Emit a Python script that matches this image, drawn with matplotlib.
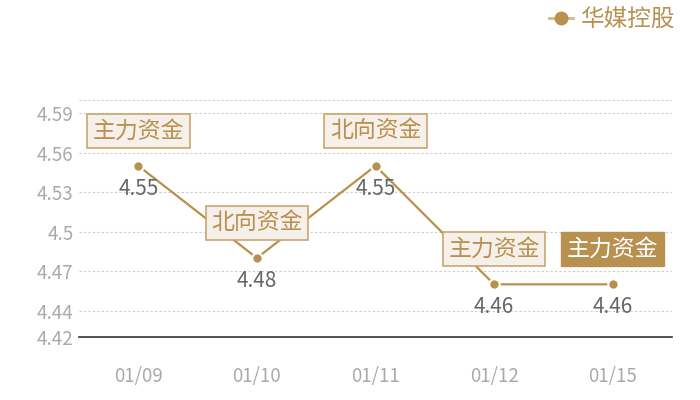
import matplotlib
matplotlib.use("Agg")
import matplotlib.pyplot as plt
from matplotlib.lines import Line2D

plt.rcParams['font.family'] = ['Noto Sans CJK SC', 'DejaVu Sans']

dates = ["01/09", "01/10", "01/11", "01/12", "01/15"]
values = [4.55, 4.48, 4.55, 4.46, 4.46]
tags = ["主力资金", "北向资金", "北向资金", "主力资金", "主力资金"]
series_name = "华媒控股"
yticks = [4.42, 4.44, 4.47, 4.5, 4.53, 4.56, 4.59]
ytick_labels = ["4.42", "4.44", "4.47", "4.5", "4.53", "4.56", "4.59"]
ymin, ymax = 4.42, 4.60

TAN = "#b8904f"
fig = plt.figure(figsize=(7, 4), dpi=100)
ax = fig.add_axes([79/700, 1-337/400, (672-79)/700, (337-100)/400])

x = list(range(len(dates)))
line, = ax.plot(x, values, color=TAN, lw=1.6, marker='o', ms=7.5,
                mfc=TAN, mec='white', mew=1.5, zorder=3, label=series_name)

ax.set_xlim(-0.5, len(dates) - 0.5)
ax.set_ylim(ymin, ymax)
ax.set_yticks(yticks)
ax.set_yticklabels(ytick_labels)
ax.set_xticks(x)
ax.set_xticklabels(dates)
for gy in yticks[1:] + [ymax]:
    ax.axhline(gy, color='#cccccc', lw=0.8, ls=(0, (2, 2)), zorder=1)

for s in ['top', 'right', 'left']:
    ax.spines[s].set_visible(False)
ax.spines['bottom'].set_color('#333333')
ax.spines['bottom'].set_linewidth(1.2)
ax.tick_params(axis='both', length=0, colors='#aaaaaa', labelsize=13.5)
ax.tick_params(axis='x', pad=21)
ax.tick_params(axis='y', pad=4)

last = len(dates) - 1
for i, (v, t) in enumerate(zip(values, tags)):
    if i == last:
        bbox = dict(boxstyle='square,pad=0.24', fc=TAN, ec=TAN, lw=1)
        tc = 'white'
    else:
        bbox = dict(boxstyle='square,pad=0.24', fc='#f5f0ea', ec='#c9a66e', lw=1.2)
        tc = TAN
    ax.annotate(t, (i, v), xytext=(0, 35), textcoords='offset pixels',
                ha='center', va='center', fontsize=16.5, color=tc,
                bbox=bbox, zorder=5)
    ax.annotate(f"{v:.2f}", (i, v), xytext=(0, -23), textcoords='offset pixels',
                ha='center', va='center', fontsize=15, color='#666666', zorder=5)

handle = Line2D([], [], color='#d2b78a', lw=2, marker='o', ms=9,
                mfc=TAN, mec=TAN)
fig.legend(handles=[handle], labels=[series_name], loc='upper right',
           bbox_to_anchor=(0.989, 1.02), frameon=False, fontsize=17,
           labelcolor=TAN, handlelength=1.0, handletextpad=0.35,
           borderaxespad=0.3)

fig.savefig("out.png", dpi=100)
